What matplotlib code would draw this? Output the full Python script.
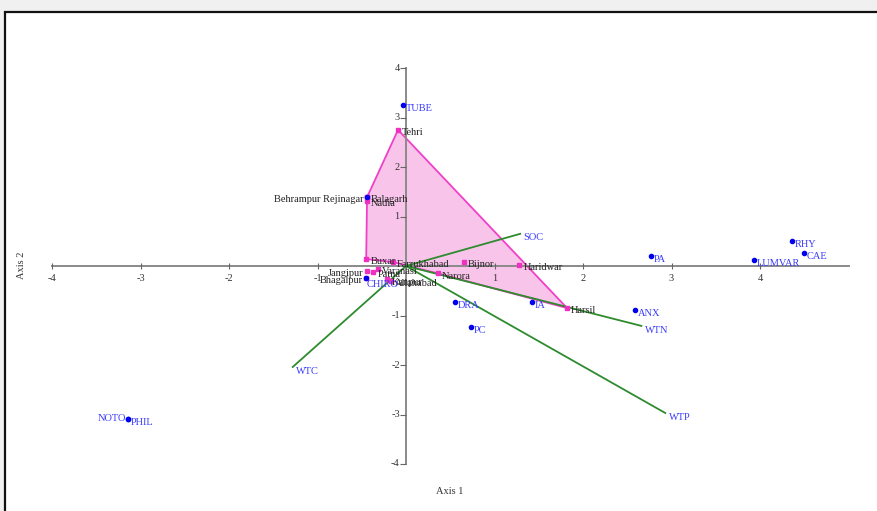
import matplotlib
matplotlib.use("Agg")
import matplotlib.pyplot as plt
from matplotlib.patches import Rectangle, Polygon
from matplotlib.markers import TICKLEFT

# ---------------- data ----------------
species_names = ["TUBE", "PA", "LUMVAR", "RHY", "CAE", "ANX", "DRA", "IA", "PC",
                 "NOTO", "PHIL", "CHIRO", ""]
species_x = [-0.03, 2.77, 3.93, 4.36, 4.50, 2.59, 0.55, 1.42, 0.73, -3.14, -3.14, -0.45, -0.44]
species_y = [3.25, 0.20, 0.12, 0.50, 0.26, -0.89, -0.73, -0.73, -1.23, -3.09, -3.09, -0.24, 1.39]

site_names = ["Tehri", "Behrampur Rejinagar", "Balagarh", "Nadia", "Buxar", "Farrukhabad",
              "Bijnor", "Haridwar", "Harsil", "Narora", "Jangipur", "Bhagalpur",
              "Varanasi", "Patna", "Kanpur", "Allahabad"]
site_x = [-0.09, -0.44, -0.44, -0.44, -0.45, -0.15, 0.65, 1.28, 1.82, 0.36, -0.44, -0.45,
          -0.32, -0.37, -0.21, -0.17]
site_y = [2.75, 1.39, 1.39, 1.31, 0.14, 0.08, 0.08, 0.02, -0.85, -0.15, -0.10, -0.24,
          -0.06, -0.12, -0.27, -0.30]

hull_sites = ["Tehri", "Harsil", "Narora", "Farrukhabad", "Buxar", "Behrampur Rejinagar"]

var_names = ["SOC", "WTN", "WTP", "WTC"]
var_x = [1.29, 2.66, 2.93, -1.28]
var_y = [0.65, -1.21, -2.97, -2.04]

x_ticks = [-4, -3, -2, -1, 1, 2, 3, 4]
y_ticks = [4, 3, 2, 1, -1, -2, -3, -4]

# labels drawn to the left of their point
left_labels = {"Behrampur Rejinagar", "Jangipur", "Bhagalpur", "NOTO"}

# ---------------- figure ----------------
W, H = 878, 511
fig = plt.figure(figsize=(W / 100, H / 100), dpi=100)
fig.patch.set_facecolor("#f0f0f0")
fig.patches.append(Rectangle((5 / W, -0.01), 1.0, (H - 12) / H + 0.01, transform=fig.transFigure,
                             facecolor="white", edgecolor="#111111", lw=1.6, zorder=-10))

ax = fig.add_axes([0, 0, 1, 1])
ax.set_zorder(5)
ax.set_facecolor("none")
x0, y0, sx, sy = 406.0, 266.0, 88.5, 49.5
ax.set_xlim((0 - x0) / sx, (W - x0) / sx)
ax.set_ylim((y0 - H) / sy, (y0 - 0) / sy)
ax.axis("off")

serif = "Liberation Serif"
fs = 7.5

# hull
pts = [(site_x[site_names.index(n)], site_y[site_names.index(n)]) for n in hull_sites]
ax.add_patch(Polygon(pts, closed=True, facecolor="#f9c4ea", edgecolor="#f040c8", lw=1.3, zorder=1))

# axes
ax.plot([-4, 5], [0, 0], color="#8a8a8a", lw=1.4, zorder=2)
ax.plot([0, 0], [-4, 4], color="#8a8a8a", lw=1.4, zorder=2)
ax.plot(x_ticks + [0], [0] * (len(x_ticks) + 1), ls="none", marker="|", ms=4, mew=0.8,
        color="#666666", zorder=2)
ax.plot([0] * len(y_ticks), y_ticks, ls="none", marker=TICKLEFT, ms=4, mew=0.8,
        color="#666666", zorder=2)
for t in x_ticks:
    ax.annotate(str(t), (t, 0), xytext=(0, -9), textcoords="offset points", ha="center",
                va="center", fontsize=fs, family=serif, color="#333333")
for t in y_ticks:
    ax.annotate(str(t), (0, t), xytext=(-4.5, 0), textcoords="offset points", ha="right",
                va="center", fontsize=fs, family=serif, color="#333333")

# vectors
for n, vx, vy in zip(var_names, var_x, var_y):
    ax.plot([0, vx], [0, vy], color="#2e8b2e", lw=1.3, zorder=3)
    ax.annotate(n, (vx, vy), xytext=(2.5, -3), textcoords="offset points", ha="left",
                va="center", fontsize=fs, family=serif, color="#3a3aff", zorder=5)

# sites
ax.plot(site_x, site_y, ls="none", marker="s", ms=3.2, color="#f030c0", zorder=4)
for n, px, py in zip(site_names, site_x, site_y):
    if n in left_labels:
        ax.annotate(n, (px, py), xytext=(-2.5, -2), textcoords="offset points", ha="right",
                    va="center", fontsize=fs, family=serif, color="#222222", zorder=5)
    else:
        ax.annotate(n, (px, py), xytext=(3, -2), textcoords="offset points", ha="left",
                    va="center", fontsize=fs, family=serif, color="#222222", zorder=5)

# species
ax.plot(species_x, species_y, ls="none", marker="o", ms=3.0, color="#0000ee", zorder=4)
for n, px, py in zip(species_names, species_x, species_y):
    if not n:
        continue
    if n in left_labels:
        ax.annotate(n, (px, py), xytext=(-1.5, 0), textcoords="offset points", ha="right",
                    va="center", fontsize=fs, family=serif, color="#3a3aff", zorder=5)
    elif n == "CHIRO":
        ax.annotate(n, (px, py), xytext=(0, -5), textcoords="offset points", ha="left",
                    va="center", fontsize=fs, family=serif, color="#3a3aff", zorder=5)
    else:
        ax.annotate(n, (px, py), xytext=(2, -2.5), textcoords="offset points", ha="left",
                    va="center", fontsize=fs, family=serif, color="#3a3aff", zorder=5)

# axis titles
fig.text(450 / W, 1 - 491 / H, "Axis 1", ha="center", va="center", fontsize=fs,
         family=serif, color="#333333")
fig.text(22 / W, 1 - 265 / H, "Axis 2", ha="center", va="center", fontsize=fs,
         family=serif, color="#333333", rotation=90)

fig.savefig("out.png", dpi=100, facecolor=fig.get_facecolor())
